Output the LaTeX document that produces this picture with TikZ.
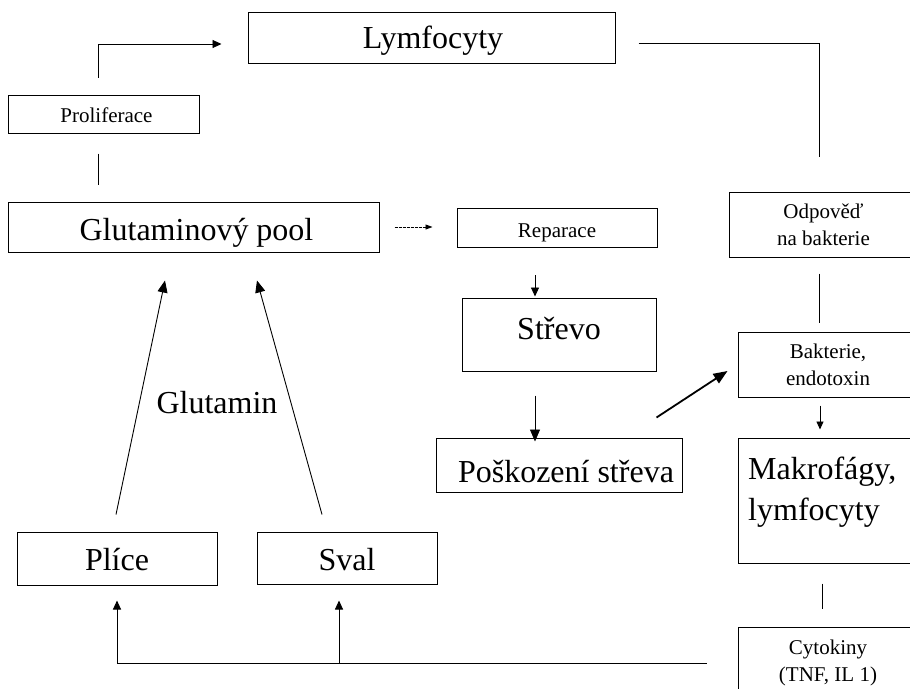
\documentclass[tikz,border=0pt]{standalone}
\usepackage{fontspec}
\setmainfont{Liberation Serif}
\usetikzlibrary{arrows.meta,calc}

\begin{document}
\begin{tikzpicture}[x=1pt,y=-1pt,
  box/.style={draw, line width=1pt, inner sep=0pt, align=center},
  big/.style={font=\fontsize{32}{38}\selectfont},
  small/.style={font=\fontsize{21}{27}\selectfont},
  % drop the baseline a given distance below the box centre
  drop/.style={text height=#1, text depth=0pt},
  link/.style={line width=0.9pt},
  arr/.style={link, -{Triangle[length=9pt,width=8pt]}},
  bigarr/.style={link, -{Triangle[length=12pt,width=10pt]}},
]
\clip (0,0) rectangle (910,688);
\fill[white] (0,0) rectangle (910,688);

% --- boxes ---
\node[box,big,drop=21pt,minimum width=367pt,minimum height=51pt] (lym) at (431.5,37.5) {\hspace*{3pt}Lymfocyty};
\node[box,small,drop=16pt,minimum width=191pt,minimum height=38pt] (prolif) at (103.5,114) {\hspace*{6pt}Proliferace};
\node[box,big,drop=27pt,minimum width=371pt,minimum height=50pt] (pool) at (193.5,227) {\hspace*{6pt}Glutaminový pool};
\node[box,small,drop=19pt,minimum width=200pt,minimum height=39pt] (repar) at (557,227.5) {Reparace};
\node[box,small,minimum width=189pt,minimum height=65pt] (odp) at (823.5,224.5) {Odpověď\\na bakterie};
\node[box,big,drop=9pt,minimum width=194pt,minimum height=73pt] (strevo) at (559,334.5) {Střevo};
\node[box,small,minimum width=180pt,minimum height=65pt] (bakt) at (828,364.5) {Bakterie,\\endotoxin};
\node[box,big,drop=34pt,minimum width=246pt,minimum height=54pt] (posk) at (559,465) {\hspace*{14pt}Poškození střeva};
\node[box,minimum width=180pt,minimum height=125pt] (makro) at (828,500.5) {};
\node[big,anchor=base west,inner sep=0pt] (makroA) at (748,479) {Makrofágy,};
\node[big,anchor=base west,inner sep=0pt] (makroB) at (748,520) {lymfocyty};
\node[box,small,minimum width=180pt,minimum height=72pt] (cyto) at (828,663) {Cytokiny\\(TNF, IL 1)};
\node[box,big,drop=23pt,minimum width=200pt,minimum height=53pt] (plice) at (117,558.5) {Plíce};
\node[box,big,drop=24pt,minimum width=180pt,minimum height=52pt] (sval) at (347,558) {Sval};
\node[big,anchor=base] (glut) at (217,413) {Glutamin};

% --- connectors ---
% proliferation feeds the lymphocytes
\draw[arr, shorten <=17pt] ([xshift=-5.5pt]prolif.north) |- ([xshift=-26pt,yshift=-6.5pt]lym.west);
\draw[link, shorten <=20pt, shorten >=17pt] ([xshift=-5.5pt]prolif.south) -- ([xshift=-5.5pt]prolif.south |- pool.north);
% pool to repair
\draw[link, dash pattern=on 3pt off 1pt, -{Triangle[length=7pt,width=5pt]}, shorten <=15pt, shorten >=24pt] (pool.east) -- (pool.east -| repar.west);
% lymphocytes to response
\draw[link, shorten <=23pt, shorten >=35pt] ([yshift=-5.5pt]lym.east) -| ([xshift=-4.5pt]odp.north);
\draw[link, shorten <=16pt, shorten >=9pt] ([xshift=-4.5pt]odp.south) -- ([xshift=-4.5pt]odp.south |- bakt.north);
% gut chain
\draw[arr, shorten <=27.5pt, shorten >=1pt] ([xshift=-22pt]repar.south) -- ([xshift=-22pt]repar.south |- strevo.north);
\draw[bigarr, shorten <=24pt, shorten >=-4pt] ([xshift=-24pt]strevo.south) -- ([xshift=-24pt]strevo.south |- posk.north);
\draw[line width=1.8pt, -{Triangle[length=14pt,width=11pt]}] ([xshift=-26pt,yshift=20pt]posk.north east) -- ([xshift=-10pt,yshift=-6.5pt]bakt.west);
\draw[link, -{Triangle[length=8pt,width=7pt]}, shorten <=8pt, shorten >=8pt] ([xshift=-8pt]bakt.south) -- ([xshift=-8pt]bakt.south |- makro.north);
\draw[link, shorten <=20pt, shorten >=18pt] ([xshift=-6pt]makro.south) -- ([xshift=-6pt]makro.south |- cyto.north);
% cytokines back to lung and muscle
\draw[arr, shorten <=31pt, shorten >=15pt] (cyto.west) -| (plice.south);
\draw[arr, shorten >=16pt] ([xshift=-8pt]sval.south |- cyto.west) -- ([xshift=-8pt]sval.south);
% glutamine release into the pool
\draw[bigarr] ([xshift=-1pt,yshift=17pt]plice.north) -- ([xshift=-28.5pt,yshift=-28pt]pool.south);
\draw[bigarr] ([xshift=-25pt,yshift=17pt]sval.north) -- ([xshift=63.5pt,yshift=-28pt]pool.south);
\end{tikzpicture}
\end{document}
